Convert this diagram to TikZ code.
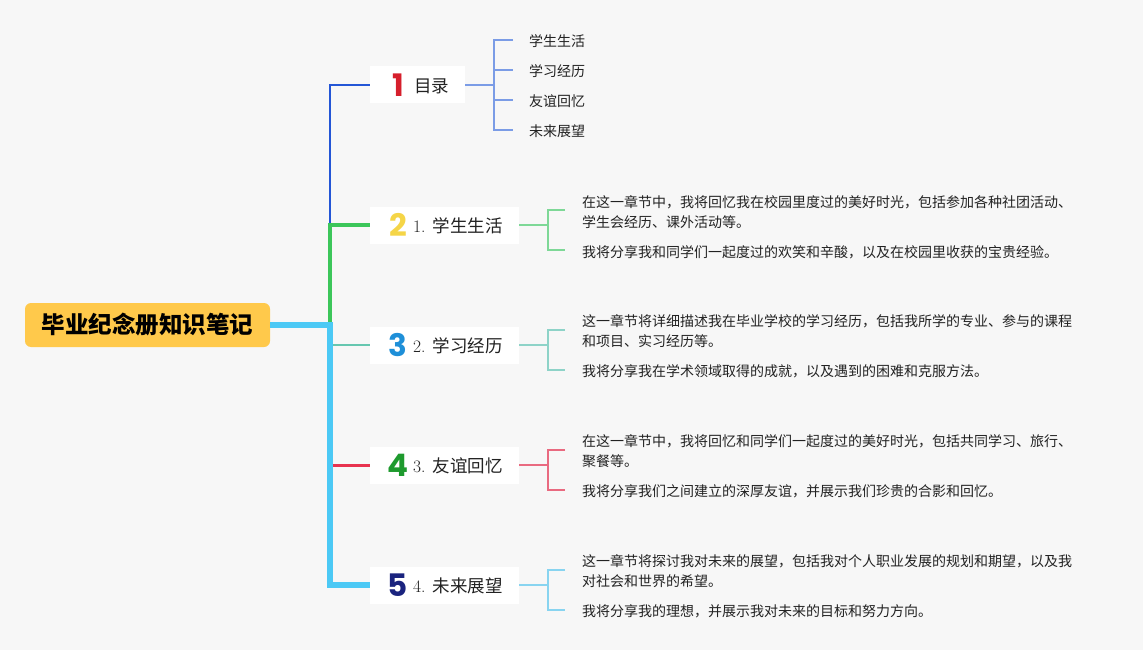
\documentclass[tikz,border=0pt]{standalone}
\usepackage{fontspec}
\newfontfamily\cjk{Noto Sans CJK SC}
\newfontfamily\numfont{Poppins}
\definecolor{bg}{HTML}{F7F7F7}
\definecolor{rootfill}{HTML}{FFC94B}
\definecolor{cblue}{HTML}{2456D6}
\definecolor{cgreen}{HTML}{3CC65A}
\definecolor{cteal}{HTML}{66C7B0}
\definecolor{cred}{HTML}{E8334F}
\definecolor{ccyan}{HTML}{4CC9F5}
\definecolor{sblue}{HTML}{7B9CE6}
\definecolor{sgreen}{HTML}{7ED897}
\definecolor{steal}{HTML}{8ED3C8}
\definecolor{sred}{HTML}{E96A80}
\definecolor{scyan}{HTML}{88D4F0}
\definecolor{dred}{HTML}{D61F2C}
\definecolor{dyellow}{HTML}{F5D547}
\definecolor{dblue}{HTML}{1E8FD8}
\definecolor{dgreen}{HTML}{1E9A2E}
\definecolor{dnavy}{HTML}{1A237E}
\definecolor{txt}{HTML}{222222}
\begin{document}
\begin{tikzpicture}[x=1pt,y=-1pt,
  rootbox/.style={fill=rootfill, rounded corners=6pt, minimum width=245pt, minimum height=44pt, inner sep=0pt,
    font=\cjk\bfseries\fontsize{23.5}{26}\selectfont, text=black},
  topbox/.style={fill=white, minimum height=37pt, inner sep=0pt},
  digit/.style={font=\numfont\bfseries\fontsize{31}{31}\selectfont, inner sep=0pt},
  toplab/.style={font=\fontsize{17.5}{20}\selectfont, text=txt, inner sep=0pt, anchor=west},
  body/.style={font=\cjk\fontsize{14}{20}\selectfont, text=txt, inner sep=0pt, anchor=west, align=left},
  brline/.style={line width=1.5pt, line join=miter},
]
\fill[bg] (0,0) rectangle (1143,650);
\useasboundingbox (0,0) rectangle (1143,650);

% root
\node[rootbox] (root) at (147.5,325) {毕业纪念册知识笔记};

% top-level boxes
\node[topbox, minimum width=95pt] (n1box) at (417.5,85) {};
\node[topbox, minimum width=149pt] (n2box) at (444.5,225) {};
\node[topbox, minimum width=149pt] (n3box) at (444.5,345) {};
\node[topbox, minimum width=149pt] (n4box) at (444.5,465) {};
\node[topbox, minimum width=149pt] (n5box) at (444.5,585) {};

\node[digit, text=dred] (d1) at (398,85) {1};
\node[digit, text=dyellow] (d2) at (398,225) {2};
\node[digit, text=dblue] (d3) at (398,345) {3};
\node[digit, text=dgreen] (d4) at (398,465) {4};
\node[digit, text=dnavy] (d5) at (398,585) {5};

\node[toplab] (l1) at (414,86) {\cjk 目录};
\node[toplab] (l2) at (413,226) {1. {\cjk 学生生活}};
\node[toplab] (l3) at (413,346) {2. {\cjk 学习经历}};
\node[toplab] (l4) at (413,466) {3. {\cjk 友谊回忆}};
\node[toplab] (l5) at (413,586) {4. {\cjk 未来展望}};

% main connectors
\coordinate (tk) at (330,325);
\coordinate (tk2) at (330,225);
\draw[cblue, line width=2pt] (tk2) |- (n1box.west);
\draw[cgreen, line width=4pt, line join=miter] (tk) |- (n2box.west);
\draw[ccyan, line width=6pt, line join=miter] (root.east) -- (tk) |- (n5box.west);
\coordinate (t3) at (333,345);
\coordinate (t4) at (333,465);
\draw[cteal, line width=2pt] (t3) -- (n3box.west);
\draw[cred, line width=3pt] (t4) -- (n4box.west);

% branch 1 children
\coordinate (b1) at (494,85);
\draw[sblue, line width=2pt] (n1box.east) -- (b1);
\draw[sblue, brline] (513,40) -- (494,40) -- (494,130) -- (513,130);
\draw[sblue, brline] (494,70) -- (513,70);
\draw[sblue, brline] (494,100) -- (513,100);
\node[body] (c11) at (529,41) {学生生活};
\node[body] (c12) at (529,71) {学习经历};
\node[body] (c13) at (529,101) {友谊回忆};
\node[body] (c14) at (529,131) {未来展望};

% branch 2 children
\coordinate (b2) at (548,225);
\draw[sgreen, brline] (n2box.east) -- (b2);
\draw[sgreen, brline] (565,210) -- (548,210) -- (548,250) -- (565,250);
\node[body] (c21) at (582,212) {在这一章节中，我将回忆我在校园里度过的美好时光，包括参加各种社团活动、\\学生会经历、课外活动等。};
\node[body] (c22) at (582,252) {我将分享我和同学们一起度过的欢笑和辛酸，以及在校园里收获的宝贵经验。};

% branch 3 children
\coordinate (b3) at (548,345);
\draw[steal, brline] (n3box.east) -- (b3);
\draw[steal, brline] (565,330) -- (548,330) -- (548,370) -- (565,370);
\node[body] (c31) at (582,331) {这一章节将详细描述我在毕业学校的学习经历，包括我所学的专业、参与的课程\\和项目、实习经历等。};
\node[body] (c32) at (582,371) {我将分享我在学术领域取得的成就，以及遇到的困难和克服方法。};

% branch 4 children
\coordinate (b4) at (548,465);
\draw[sred, brline] (n4box.east) -- (b4);
\draw[sred, brline] (565,450) -- (548,450) -- (548,490) -- (565,490);
\node[body] (c41) at (582,451) {在这一章节中，我将回忆和同学们一起度过的美好时光，包括共同学习、旅行、\\聚餐等。};
\node[body] (c42) at (582,491) {我将分享我们之间建立的深厚友谊，并展示我们珍贵的合影和回忆。};

% branch 5 children
\coordinate (b5) at (548,585);
\draw[scyan, brline] (n5box.east) -- (b5);
\draw[scyan, brline] (565,570) -- (548,570) -- (548,610) -- (565,610);
\node[body] (c51) at (582,571) {这一章节将探讨我对未来的展望，包括我对个人职业发展的规划和期望，以及我\\对社会和世界的希望。};
\node[body] (c52) at (582,611) {我将分享我的理想，并展示我对未来的目标和努力方向。};
\end{tikzpicture}
\end{document}
